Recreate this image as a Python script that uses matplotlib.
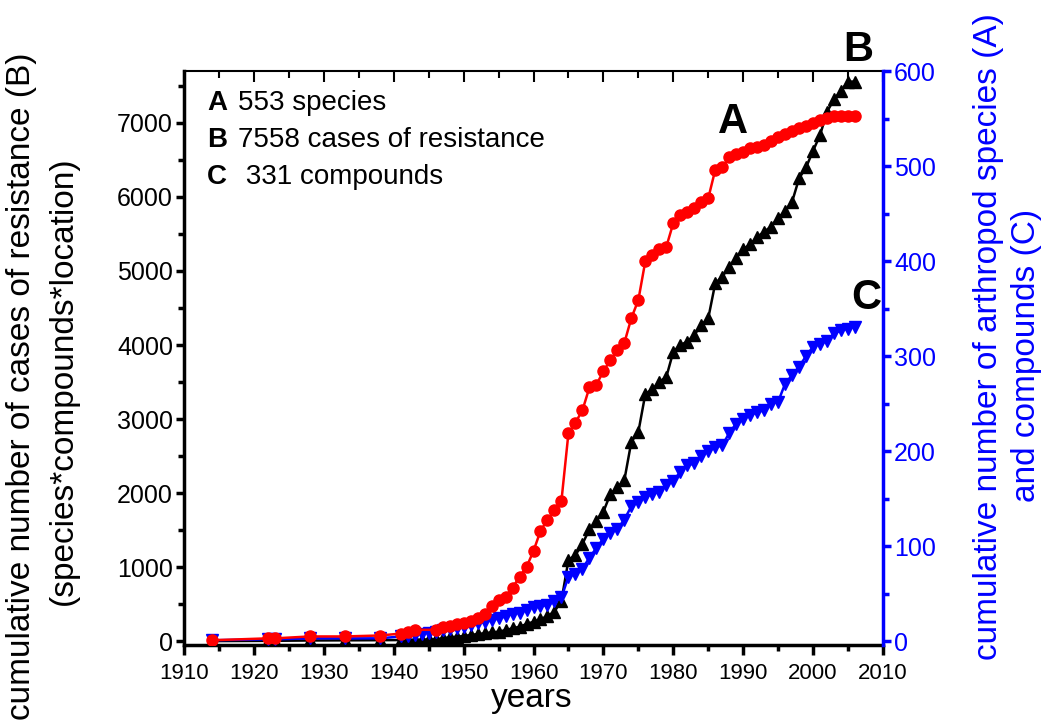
import matplotlib
matplotlib.use("Agg")
import matplotlib.pyplot as plt
from matplotlib.ticker import MultipleLocator

plt.rcParams['font.family'] = ['Liberation Sans', 'DejaVu Sans']

# ---- data ----
years_A = [1914, 1922, 1923, 1928, 1933, 1938, 1941, 1942, 1943] + list(range(1946, 2007))
species_A = [1, 3, 3, 5, 5, 6, 8, 10, 12,
             12, 15, 16, 18, 19, 21, 24, 29, 37, 43, 47, 56, 68, 78, 95, 116, 128, 138, 148,
             219, 230, 243, 267, 270, 284, 296, 306, 314, 340, 359,
             400, 406, 413, 415, 440, 448, 452, 456, 462, 466,
             496, 499, 509, 513, 515, 519, 520, 522, 526, 531, 534, 537, 540, 542,
             545, 548, 551, 553, 553, 553, 553]

years_BC = [1914, 1922, 1923, 1928, 1933, 1938, 1941, 1942, 1943, 1944, 1945] + list(range(1946, 2007))
cases_B = [2, 5, 6, 10, 12, 14, 16, 18, 20, 22, 24,
           26, 39, 53, 61, 70, 84, 97, 107, 120, 128, 151, 174, 196, 232, 263, 296, 340, 400, 550,
           1097, 1164, 1313, 1511, 1628, 1749, 1988, 2078, 2177, 2694, 2825,
           3340, 3400, 3504, 3568, 3910, 4000, 4045, 4135, 4270, 4360,
           4833, 4922, 5057, 5178, 5292, 5360, 5460, 5530, 5600, 5718, 5807, 5935,
           6251, 6400, 6624, 6836, 7151, 7318, 7434, 7556, 7558]
compounds_C = [1, 2, 2, 3, 3, 3, 5, 6, 7, 8, 9,
               10, 12, 13, 14, 15, 17, 19, 20, 22, 24, 26, 29, 30, 33, 36, 37, 38, 42, 46,
               68, 71, 76, 88, 98, 108, 114, 118, 128, 142, 147,
               152, 155, 157, 164, 169, 178, 185, 187, 195, 200,
               204, 206, 219, 229, 234, 238, 241, 243, 250, 252, 271, 280,
               289, 300, 310, 313, 316, 324, 327, 329, 331]

legend_rows = [("A", "553 species"), ("B", "7558 cases of resistance"), ("C", " 331 compounds")]

# ---- figure ----
fig = plt.figure(figsize=(10.42, 7.21), dpi=100)
ax = fig.add_axes([0.1766, 0.1054, 0.6708, 0.7961])
ax2 = ax.twinx()

ax.plot(years_BC, cases_B, color='black', marker='^', markersize=8, lw=1.8, zorder=3)
ax2.plot(years_A, species_A, color='#ff0000', marker='o', markersize=8, lw=1.8, zorder=3)
ax2.plot(years_BC, compounds_C, color='#0000ff', marker='v', markersize=8, lw=1.8, zorder=2)

ax.set_xlim(1910, 2010)
ax.set_ylim(-51, 7700)
ax2.set_ylim(-4, 600)

ax.xaxis.set_major_locator(MultipleLocator(10))
ax.xaxis.set_minor_locator(MultipleLocator(5))
ax.yaxis.set_major_locator(MultipleLocator(1000))
ax.yaxis.set_minor_locator(MultipleLocator(500))
ax2.yaxis.set_major_locator(MultipleLocator(100))
ax2.yaxis.set_minor_locator(MultipleLocator(50))

for s in ['left', 'bottom']:
    ax.spines[s].set_linewidth(2.5)
ax.spines['top'].set_linewidth(1.5)
ax2.spines['right'].set_linewidth(2.5)
ax2.spines['right'].set_color('#0000ff')
for s in ['left', 'bottom', 'top']:
    ax2.spines[s].set_visible(False)
ax.spines['right'].set_visible(False)

ax.tick_params(axis='y', which='major', direction='out', length=6, width=2.5, labelsize=18, pad=2)
ax.tick_params(axis='y', which='minor', direction='out', length=4, width=2.5)
ax.tick_params(axis='x', which='major', direction='out', length=7, width=2.5, labelsize=16, pad=6,
               top=True)
ax.tick_params(axis='x', which='minor', direction='out', length=4, width=2.5, top=True)
ax2.tick_params(axis='y', which='major', direction='out', length=6, width=2.5, labelsize=18,
                colors='#0000ff', pad=2)
ax2.tick_params(axis='y', which='minor', direction='out', length=4, width=2.5, colors='#0000ff')
# top ticks inward
for t in ax.xaxis.get_major_ticks():
    t.tick2line.set_marker(3)
    t.tick2line.set_markersize(8)
    t.tick2line.set_markeredgewidth(1.5)
for t in ax.xaxis.get_minor_ticks():
    t.tick2line.set_marker(3)
    t.tick2line.set_markersize(5)
    t.tick2line.set_markeredgewidth(1.5)

fig.text(532 / 1042, 1 - 698 / 721, "years", fontsize=24, ha='center', va='center')

fig.text(22 / 1042, 1 - 386 / 721, "cumulative number of cases of resistance (B)",
         rotation=90, ha='center', va='center', fontsize=24)
fig.text(63 / 1042, 1 - 381 / 721, "(species*compounds*location)",
         rotation=90, ha='center', va='center', fontsize=24)
fig.text(989 / 1042, 1 - 337 / 721, "cumulative number of arthropod species (A)",
         rotation=90, ha='center', va='center', fontsize=24, color='#0000ff')
fig.text(1026 / 1042, 1 - 355 / 721, "and compounds (C)",
         rotation=90, ha='center', va='center', fontsize=24, color='#0000ff')

# legend-like text
for i, (letter, txt) in enumerate(legend_rows):
    y = 1 - (103 + 37 * i) / 721
    fig.text(207 / 1042, y, letter, fontsize=20, fontweight='bold', ha='left', va='center')
    fig.text(238 / 1042, y, txt, fontsize=20, ha='left', va='center')

# big series labels
fig.text(733 / 1042, 1 - 122 / 721, "A", fontsize=30, fontweight='bold', ha='center', va='center')
fig.text(858 / 1042, 1 - 50 / 721, "B", fontsize=30, fontweight='bold', ha='center', va='center')
fig.text(866 / 1042, 1 - 298 / 721, "C", fontsize=30, fontweight='bold', ha='center', va='center')

fig.savefig("out.png", dpi=100)
